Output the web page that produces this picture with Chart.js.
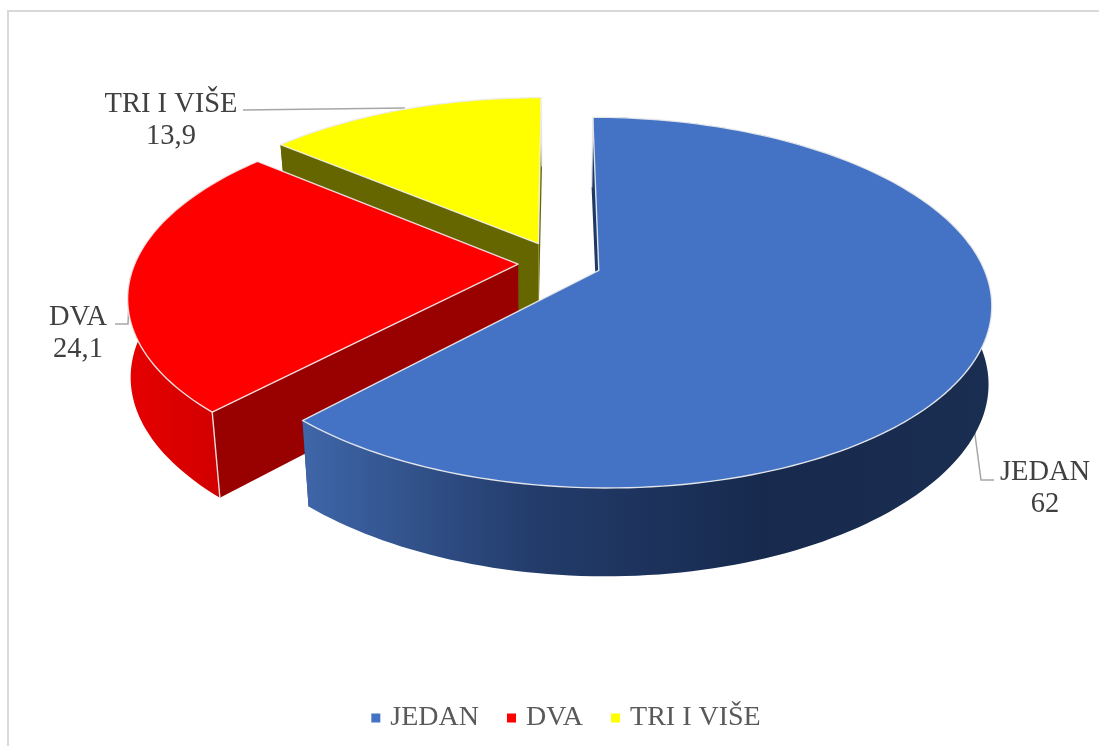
<!DOCTYPE html>
<html>
<head>
<meta charset="utf-8">
<title>Pie</title>
<script src="https://cdn.jsdelivr.net/npm/chart.js@4/dist/chart.umd.min.js"></script>
<style>
  html, body { margin: 0; padding: 0; background: #fff; overflow: hidden; }
  canvas { display: block; }
</style>
</head>
<body>
<canvas id="pieChart" width="1099" height="746"></canvas>
<script>
const categories = ["JEDAN", "DVA", "TRI I VIŠE"];
const values = [62, 24.1, 13.9];
const valueLabels = ["62", "24,1", "13,9"];
const explode = [36, 33, 39];
const topColors = ["#4472c4", "#ff0000", "#ffff00"];
const cutColors = ["#1f3864", "#990000", "#666600"];
const rimColors = [["#3f66a9", "#233c6b", "#172a4e", "#1a2e52"], ["#e60000", "#c80000"], ["#666600", "#666600"]];

const font = '"Liberation Serif", "Times New Roman", serif';

// perspective of the tilted disc, fitted by eye to the picture
const midX = 558, midY = 263, spanX = 383, spanY = 132, tilt = -0.172;
const depthBase = 79, depthNear = 9;

function project(u, v, down) {
  const w = 1 + tilt * v;
  let x = midX + spanX * u / w;
  let y = (midY + spanY * v) / w;
  if (down) {
    // the underside pulls in mostly on the near side
    x += (midX - x) * (0.006 + 0.03 * v * v);
    y += depthBase + depthNear * v;
  }
  return [x, y];
}

function polygon(ctx, points) {
  ctx.beginPath();
  points.forEach((p, i) => i ? ctx.lineTo(p[0], p[1]) : ctx.moveTo(p[0], p[1]));
  ctx.closePath();
}

function drawSlice(ctx, arc, index) {
  const start = arc.startAngle, end = arc.endAngle;
  const half = (start + end) / 2;
  const ex = Math.cos(half) * arc.options.offset / arc.outerRadius;
  const ey = Math.sin(half) * arc.options.offset / arc.outerRadius;

  const rim = [];
  const steps = Math.ceil((end - start) * 40);
  for (let i = 0; i <= steps; i++) {
    const a = start + (end - start) * i / steps;
    rim.push([ex + Math.cos(a), ey + Math.sin(a)]);
  }
  const first = rim[0], last = rim[rim.length - 1];
  const top = (p) => project(p[0], p[1], false);
  const low = (p) => project(p[0], p[1], true);
  const apex = [ex, ey];

  // the two cut faces
  ctx.fillStyle = cutColors[index];
  [first, last].forEach(p => {
    polygon(ctx, [top(apex), top(p), low(p), low(apex)]);
    ctx.fill();
  });

  // outer wall
  const topRim = rim.map(top);
  const lowRim = rim.map(low).reverse();
  const xs = topRim.map(p => p[0]);
  const x0 = Math.min(...xs), x1 = Math.max(...xs);
  const grad = ctx.createLinearGradient(x0, 0, x1, 0);
  const stops = rimColors[index];
  stops.forEach((c, i) => grad.addColorStop(i / (stops.length - 1), c));
  polygon(ctx, topRim.concat(lowRim));
  ctx.fillStyle = grad;
  ctx.fill();

  // top face
  polygon(ctx, [top(apex)].concat(topRim));
  ctx.fillStyle = topColors[index];
  ctx.fill();
  ctx.strokeStyle = "rgba(240,240,240,0.9)";
  ctx.lineWidth = 1.4;
  ctx.lineJoin = "round";
  ctx.stroke();

  // corner towards the viewer
  const corner = index === 2 ? last : first;
  ctx.beginPath();
  ctx.moveTo(...top(corner));
  ctx.lineTo(...low(corner));
  ctx.stroke();
}

const leaderLines = [
  [[994, 480], [981, 480], [974, 427]],
  [[115, 324], [128, 324], [130, 278]],
  [[243, 110], [405, 108]]
];
const labelSpots = [[1045, 473], [78, 318], [171, 105]];

const pie3d = {
  id: "pie3d",
  beforeDraw(chart) {
    const ctx = chart.ctx;
    ctx.save();
    ctx.fillStyle = "#fff";
    ctx.fillRect(0, 0, chart.width, chart.height);
    ctx.strokeStyle = "#d9d9d9";
    ctx.lineWidth = 2;
    ctx.strokeRect(8, 11, chart.width + 20, chart.height + 20);
    ctx.restore();
  },
  beforeDatasetsDraw(chart) {
    const ctx = chart.ctx;
    const arcs = chart.getDatasetMeta(0).data;
    ctx.save();
    ctx.strokeStyle = "#a6a6a6";
    ctx.lineWidth = 1.5;
    leaderLines.forEach(line => {
      ctx.beginPath();
      line.forEach((p, i) => i ? ctx.lineTo(p[0], p[1]) : ctx.moveTo(p[0], p[1]));
      ctx.stroke();
    });
    for (let i = arcs.length - 1; i >= 0; i--) {
      drawSlice(ctx, arcs[i], i);
    }
    ctx.fillStyle = "#404040";
    ctx.font = "28.5px " + font;
    ctx.textAlign = "center";
    ctx.textBaseline = "middle";
    categories.forEach((name, i) => {
      ctx.fillText(name, labelSpots[i][0], labelSpots[i][1]);
      ctx.fillText(valueLabels[i], labelSpots[i][0], labelSpots[i][1] + 32);
    });
    ctx.restore();
    return false;
  }
};

new Chart(document.getElementById("pieChart"), {
  type: "pie",
  data: {
    labels: categories,
    datasets: [{
      data: values,
      backgroundColor: topColors,
      borderWidth: 0,
      offset: explode
    }]
  },
  options: {
    responsive: false,
    animation: false,
    rotation: 0,
    layout: { padding: { bottom: 4, left: 37 } },
    plugins: {
      tooltip: { enabled: false },
      legend: {
        position: "bottom",
        labels: {
          usePointStyle: true,
          pointStyle: "rect",
          boxWidth: 1,
          boxHeight: 9,
          padding: 32,
          color: "#595959",
          font: { family: font, size: 28 }
        }
      }
    }
  },
  plugins: [pie3d]
});
</script>
</body>
</html>
